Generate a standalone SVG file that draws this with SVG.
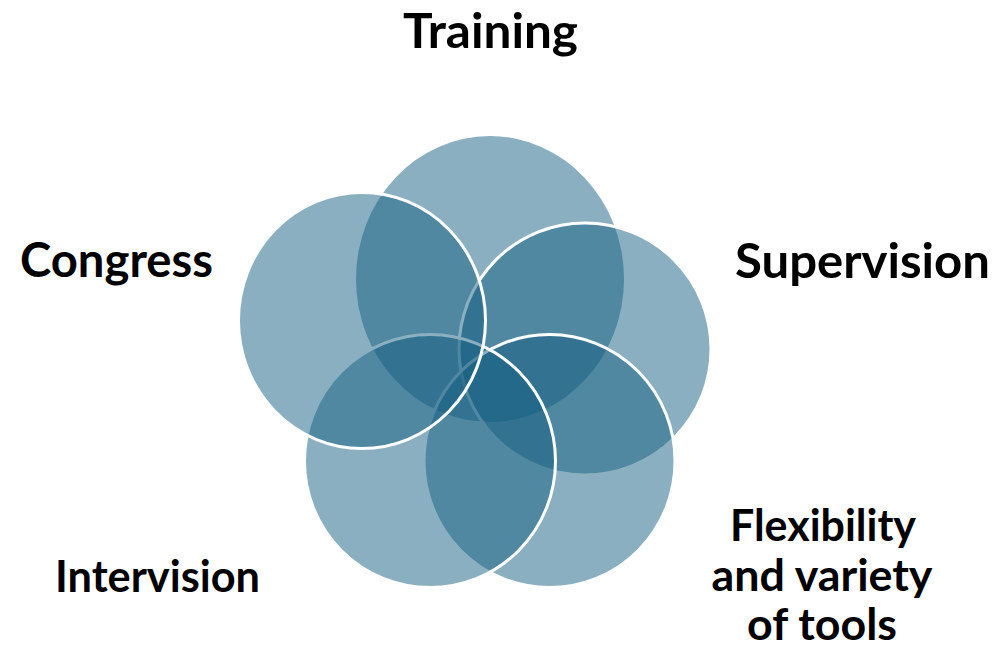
<svg xmlns="http://www.w3.org/2000/svg" width="1000" height="647" viewBox="0 0 1000 647">
<style>
.c{fill:#155F81;fill-opacity:0.5;stroke:#FFFFFF;stroke-width:3}
.c0{fill:#155F81;fill-opacity:0.5;stroke:none}
.t{font-family:Lato,"Open Sans","Liberation Sans",sans-serif;font-weight:bold;fill:#000000;text-anchor:middle}
.big{font-size:47px}
.small{font-size:44px}
</style>
<rect width="1000" height="647" fill="#FFFFFF"/>
<g id="training">
<ellipse class="c0" cx="490" cy="279" rx="134" ry="143"/>
<text class="t big" x="490.5" y="48" textLength="175" lengthAdjust="spacingAndGlyphs">Training</text>
</g>
<g id="supervision">
<ellipse class="c" cx="585" cy="349" rx="126" ry="126"/>
<text class="t big" x="862.5" y="278" textLength="255" lengthAdjust="spacingAndGlyphs">Supervision</text>
</g>
<g id="flexibility">
<ellipse class="c" cx="549.5" cy="461" rx="125.5" ry="126.5"/>
<text class="t small" x="823" y="541" textLength="186" lengthAdjust="spacingAndGlyphs">Flexibility</text>
<text class="t small" x="822" y="591" textLength="221" lengthAdjust="spacingAndGlyphs">and variety</text>
<text class="t small" x="822" y="640" textLength="150" lengthAdjust="spacingAndGlyphs">of tools</text>
</g>
<g id="intervision">
<ellipse class="c" cx="430" cy="461" rx="125.5" ry="126.5"/>
<text class="t small" x="157.5" y="592" textLength="205" lengthAdjust="spacingAndGlyphs">Intervision</text>
</g>
<g id="congress">
<ellipse class="c" cx="362" cy="320.5" rx="123.5" ry="128"/>
<text class="t big" x="116.5" y="277" textLength="193" lengthAdjust="spacingAndGlyphs">Congress</text>
</g>
<g id="connectors"></g>
</svg>
